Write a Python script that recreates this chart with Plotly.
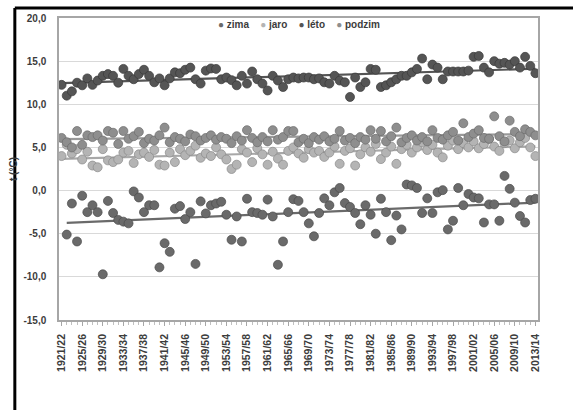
import numpy as np
import plotly.graph_objects as go

# ---- data -------------------------------------------------------------
seasons = [f"{y}/{str(y + 1)[2:]}" for y in range(1921, 2014)]
tick_every = 4

zima = [None, -5.1, -1.5, -5.9, -0.6, -2.5, -1.7, -2.5, -9.7, -1.2,
        -2.6, -3.4, -3.6, -3.8, -0.1, -0.8, -2.5, -1.7, -1.7, -8.9,
        -6.1, -7.1, -2.1, -1.8, -3.3, -2.5, -8.5, -1.25, -2.65, -1.7,
        -1.5, -1.3, -2.8, -5.7, -3.0, -5.9, -0.95, -2.5, -2.6, -2.8,
        -1.05, -3.0, -8.6, -5.9, -2.5, -1.0, -1.2, -2.5, -3.8, -5.3,
        -2.6, -0.9, -1.7, -0.2, 0.3, -1.45, -1.9, -2.6, -3.9, -1.7,
        -2.8, -5.0, -0.95, -2.5, -5.75, -2.9, -4.5, 0.7, 0.6, 0.3,
        -2.6, -0.9, -2.6, -0.2, 0.05, -4.5, -3.5, 0.3, -1.7, -0.4,
        -0.8, -0.9, -3.7, -1.6, -1.6, -3.5, 1.7, 0.2, -1.4, -2.95,
        -3.7, -1.1, -0.95]

jaro = [4.0, 5.3, 4.3, 4.8, 3.6, 4.5, 2.9, 2.7, 4.8, 3.5,
        3.3, 3.6, 4.4, 4.6, 3.2, 4.2, 4.4, 3.9, 4.7, 3.0,
        2.9, 4.4, 3.3, 4.8, 4.1, 4.6, 5.2, 3.8, 4.3, 4.0,
        5.0, 4.2, 3.6, 2.5, 3.0, 4.8, 4.4, 3.3, 4.9, 4.2,
        3.0, 4.5, 3.7, 3.0, 4.6, 5.0, 4.3, 3.8, 4.8, 4.4,
        4.6, 3.9, 4.4, 5.1, 3.1, 4.6, 4.9, 2.9, 4.2, 5.0,
        4.5, 5.4, 3.65, 4.4, 5.1, 3.1, 4.8, 5.3, 4.4, 5.0,
        5.6, 4.7, 5.3, 4.4, 3.85, 5.2, 5.8, 4.8, 5.5, 5.0,
        5.7, 4.9, 5.4, 6.0, 5.1, 4.6, 5.5, 5.8, 4.9, 5.6,
        6.1, 5.0, 4.0]

leto = [12.25, 11.0, 11.5, 12.5, 12.2, 13.0, 12.25, 12.75, 13.3, 13.5,
        13.3, 12.5, 14.1, 13.3, 12.9, 13.5, 14.0, 13.3, 12.55, 13.0,
        12.2, 13.0, 13.7, 13.6, 14.0, 14.25, 12.9, 12.4, 13.9, 14.15,
        14.1, 12.9, 13.1, 12.8, 12.2, 13.3, 12.4, 13.8, 12.9, 12.4,
        11.6, 13.3, 12.75, 12.0, 12.9, 13.1, 13.0, 13.1, 13.1, 12.9,
        13.0, 12.55, 12.4, 13.3, 12.75, 12.55, 10.85, 13.1, 12.0, 12.55,
        14.1, 14.0, 12.0, 12.2, 12.55, 12.9, 13.3, 13.3, 13.7, 14.1,
        15.3, 12.9, 14.6, 14.25, 12.9, 13.8, 13.8, 13.8, 13.8, 13.9,
        15.5, 15.6, 14.25, 13.7, 15.0, 14.7, 14.8, 14.6, 15.0, 14.25,
        15.5, 14.45, 13.6]

podzim = [6.1, 5.6, 5.0, 6.9, 5.3, 6.4, 6.2, 6.4, 5.8, 6.9,
          6.7, 5.4, 6.9, 6.0, 6.3, 6.8, 5.5, 6.0, 5.8, 6.4,
          7.3, 5.6, 6.2, 6.0, 5.7, 6.5, 6.3, 5.8, 6.1, 6.4,
          5.9, 6.2, 6.0, 5.5, 6.3, 5.8, 7.0, 6.1, 5.6, 6.2,
          5.7, 7.0, 5.9, 6.2, 6.9, 6.9, 5.6, 6.0, 5.5, 6.2,
          5.9, 6.3, 5.7, 6.0, 6.9, 5.8, 6.1, 5.5, 6.2, 5.9,
          7.0, 6.0, 6.9, 5.7, 6.3, 7.3, 5.6, 6.1, 6.4, 5.8,
          6.2, 5.7, 7.0, 6.1, 5.9, 6.4, 6.8, 5.8, 7.8, 6.2,
          6.6, 7.0, 6.1, 6.0, 8.6, 6.3, 5.7, 8.1, 6.8, 6.3,
          7.1, 6.8, 6.4]

series_names = ["zima", "jaro", "léto", "podzim"]
series_values = [zima, jaro, leto, podzim]
y_ticks = [-15, -10, -5, 0, 5, 10, 15, 20]
y_ticktext = [f"{v:.1f}".replace(".", ",") for v in y_ticks]

# ---- styles -----------------------------------------------------------
colors = {"zima": "#6a6a6a", "jaro": "#b4b4b4", "léto": "#555555", "podzim": "#8e8e8e"}
edges = {"zima": "#4a4a4a", "jaro": "#8a8a8a", "léto": "#3a3a3a", "podzim": "#6c6c6c"}
trend_colors = {"zima": "#6a6a6a", "jaro": "#a8a8a8", "léto": "#555555", "podzim": "#999999"}
FONT = "Liberation Sans"
TXT = "#3c3c3c"

W, H = 573, 410
ML, MR, MT, MB = 50, 35, 15, 90
PW, PH = W - ML - MR, H - MT - MB


def px_x(p):
    return (p - ML) / PW


def px_y(p):
    return (H - MB - p) / PH


fig = go.Figure()
x_idx = np.arange(len(seasons))

# trend lines (drawn first, under markers)
for name, vals in zip(series_names, series_values):
    arr = np.array([np.nan if v is None else v for v in vals], dtype=float)
    ok = ~np.isnan(arr)
    k, q = np.polyfit(x_idx[ok], arr[ok], 1)
    xs = x_idx[ok]
    fig.add_trace(go.Scatter(
        x=[xs[0], xs[-1]], y=[k * xs[0] + q, k * xs[-1] + q],
        mode="lines", line=dict(color=trend_colors[name], width=2.2),
        showlegend=False, hoverinfo="skip"))

for name, vals in zip(series_names, series_values):
    fig.add_trace(go.Scatter(
        x=x_idx, y=vals, mode="markers", name=name,
        marker=dict(size=9, color=colors[name],
                    line=dict(color=edges[name], width=0.7)),
        showlegend=False))

fig.update_xaxes(
    range=[-0.5, len(seasons) - 0.5],
    tickvals=list(x_idx[::tick_every]),
    ticktext=seasons[::tick_every],
    tickangle=-90,
    tickfont=dict(family=FONT, size=10.5, color=TXT, weight="bold"),
    showgrid=False, zeroline=False,
    showline=True, linecolor="#a6a6a6", linewidth=1.5, mirror=True,
    ticks="outside", ticklen=4, tickcolor="#a6a6a6",
    minor=dict(dtick=1, ticks="outside", ticklen=3, tickcolor="#c0c0c0"),
    ticklabelstandoff=4,
)
fig.update_yaxes(
    range=[-15, 20],
    tickvals=y_ticks, ticktext=y_ticktext,
    tickfont=dict(family=FONT, size=10, color=TXT, weight="bold"),
    showgrid=True, gridcolor="#d9d9d9", gridwidth=1.2,
    zeroline=False,
    showline=True, linecolor="#a6a6a6", linewidth=1.5, mirror=True,
    ticks="", ticklabelstandoff=9,
    title=dict(text="t (°C)", font=dict(family=FONT, size=10, color=TXT, weight="bold"),
               standoff=4),
)

# compact legend as real text
legend_parts = []
for name in series_names:
    legend_parts.append(
        f"<span style='color:{colors[name]}'>●</span> {name}")
fig.add_annotation(
    x=px_x(295), y=px_y(22), xref="paper", yref="paper",
    text="    ".join(legend_parts), showarrow=False,
    font=dict(family=FONT, size=10, color=TXT, weight="bold"),
    xanchor="center", yanchor="middle")

# black frame of the picture
fig.add_shape(type="line", xref="paper", yref="paper",
              x0=px_x(5), x1=px_x(W + 5), y0=px_y(5), y1=px_y(5),
              line=dict(color="black", width=3))
fig.add_shape(type="line", xref="paper", yref="paper",
              x0=px_x(5), x1=px_x(5), y0=px_y(5), y1=px_y(H + 5),
              line=dict(color="black", width=3))

fig.update_layout(
    width=W, height=H,
    margin=dict(l=ML, r=MR, t=MT, b=MB),
    paper_bgcolor="white", plot_bgcolor="white",
    font=dict(family=FONT, color=TXT),
    showlegend=False,
)

fig.write_html("out.html")
